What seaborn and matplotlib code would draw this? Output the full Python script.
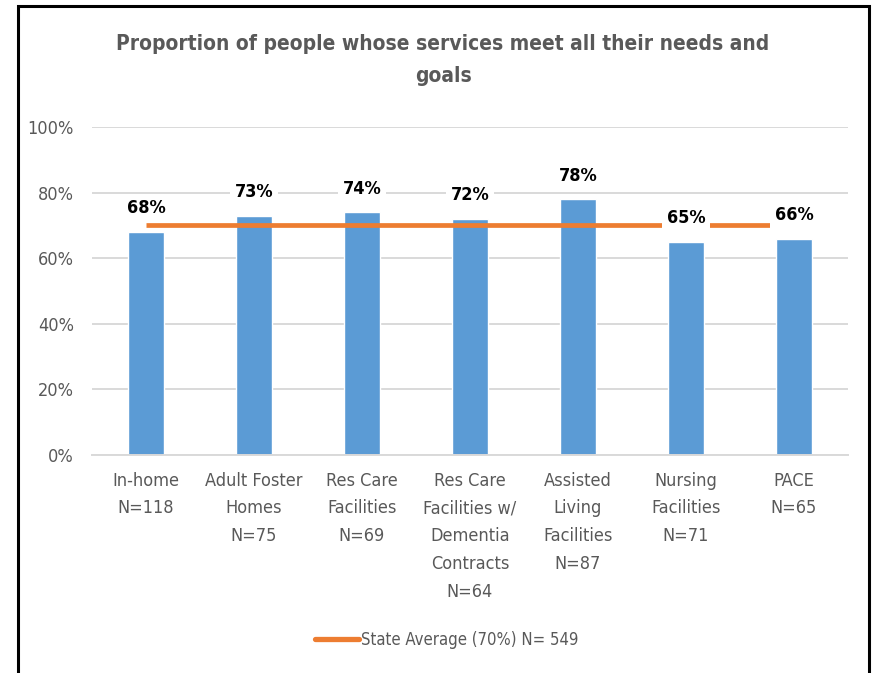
import matplotlib
matplotlib.use("Agg")
import matplotlib.pyplot as plt
from matplotlib.patches import Rectangle
from matplotlib.lines import Line2D
from matplotlib import font_manager
import seaborn as sns
import pandas as pd

categories = [
    "In-home\nN=118",
    "Adult Foster\nHomes\nN=75",
    "Res Care\nFacilities\nN=69",
    "Res Care\nFacilities w/\nDementia\nContracts\nN=64",
    "Assisted\nLiving\nFacilities\nN=87",
    "Nursing\nFacilities\nN=71",
    "PACE\nN=65",
]
values = [0.68, 0.73, 0.74, 0.72, 0.78, 0.65, 0.66]
state_average = 0.70
legend_label = "State Average (70%) N= 549"
title = "Proportion of people whose services meet all their needs and\ngoals"
yticks = [0.0, 0.2, 0.4, 0.6, 0.8, 1.0]

BAR = "#5B9BD5"
ORANGE = "#ED7D31"
GRID = "#D9D9D9"
TXT = "#595959"

sns.set_theme(style="white")
names = {f.name for f in font_manager.fontManager.ttflist}
narrow = [n for n in ["Liberation Sans Narrow", "DejaVu Sans Condensed"] if n in names]
plt.rcParams["font.family"] = narrow + ["DejaVu Sans"]
plt.rcParams["font.stretch"] = "condensed"

df = pd.DataFrame({"category": categories, "value": values})

fig = plt.figure(figsize=(8.75, 6.73), dpi=100)
ax = fig.add_axes([92 / 875, 1 - 455 / 673, (848 - 92) / 875, (455 - 127) / 673])

sns.barplot(data=df, x="category", y="value", color=BAR, width=0.335,
            saturation=1, ax=ax, zorder=2)

# state average line across all categories
ax.plot(range(len(categories)), [state_average] * len(categories),
        color=ORANGE, lw=3.4, zorder=3, solid_capstyle="butt")

# value labels above bars
for i, v in enumerate(values):
    ax.annotate(f"{v:.0%}", (i, v), xytext=(0, 17), textcoords="offset points",
                ha="center", va="center", fontsize=13, fontweight="bold",
                color="black", zorder=5,
                bbox=dict(boxstyle="square,pad=0.25", fc="white", ec="none"))

ax.set_ylim(0, 1.0)
ax.set_xlim(-0.5, len(categories) - 0.5)
ax.set_yticks(yticks)
ax.set_yticklabels([f"{t:.0%}" for t in yticks])
ax.grid(axis="y", color=GRID, lw=1.4, zorder=0)
ax.set_axisbelow(True)
for s in ["top", "right", "left"]:
    ax.spines[s].set_visible(False)
ax.spines["bottom"].set_color(GRID)
ax.spines["bottom"].set_linewidth(1.4)
ax.set_xlabel("")
ax.set_ylabel("")
ax.tick_params(axis="both", length=0, labelsize=13, labelcolor=TXT)
ax.tick_params(axis="y", pad=13)
ax.tick_params(axis="x", pad=12)
for lbl in ax.get_xticklabels():
    lbl.set_linespacing(1.7)
    lbl.set_verticalalignment("top")

fig.text(443 / 875, 1 - 60 / 673, title, ha="center", va="center",
         fontsize=15, fontweight="bold", color=TXT, linespacing=1.75)

handle = Line2D([], [], color=ORANGE, lw=3.8, solid_capstyle="round")
fig.legend([handle], [legend_label], loc="center",
           bbox_to_anchor=(447 / 875, 1 - 640 / 673), frameon=False,
           fontsize=12, labelcolor=TXT, handlelength=2.6, handletextpad=0.15)

# outer frame
fig.patches.append(Rectangle((18 / 875, -0.05), (869 - 18) / 875, 1.05 - 6 / 673,
                             transform=fig.transFigure, fill=False,
                             ec="black", lw=2.2))

fig.savefig("out.png", dpi=100, facecolor="white")
